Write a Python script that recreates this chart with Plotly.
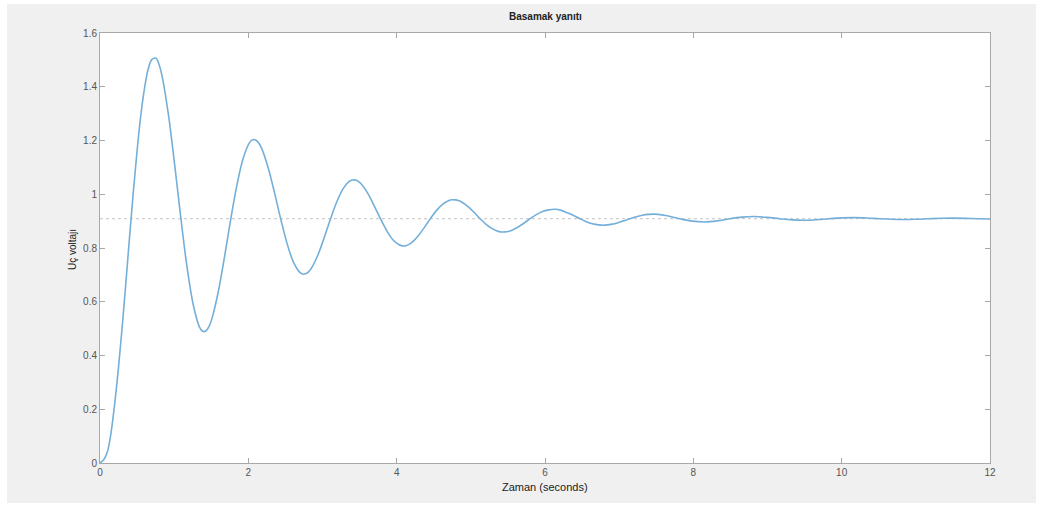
import plotly.graph_objects as go

# Step response samples (time in seconds, terminal voltage)
time_s = [0.0, 0.05, 0.10, 0.15, 0.20, 0.25, 0.30, 0.35, 0.40, 0.45, 0.50, 0.55,
          0.60, 0.65, 0.70, 0.755, 0.797, 0.839, 0.923, 1.007, 1.091, 1.175, 1.259, 1.343,
          1.386, 1.428, 1.470, 1.512, 1.596, 1.680, 1.764, 1.848, 1.932, 2.016, 2.058,
          2.100, 2.142, 2.184, 2.268, 2.352, 2.436, 2.520, 2.604, 2.688, 2.731, 2.773,
          2.815, 2.857, 2.941, 3.025, 3.109, 3.193, 3.277, 3.361, 3.403, 3.445, 3.487,
          3.529, 3.613, 3.697, 3.781, 3.865, 3.949, 4.034, 4.076, 4.118, 4.160, 4.202,
          4.286, 4.370, 4.454, 4.538, 4.622, 4.706, 4.748, 4.790, 4.832, 4.874, 4.958,
          5.042, 5.126, 5.210, 5.294, 5.378, 5.421, 5.463, 5.505, 5.547, 5.631, 5.715,
          5.799, 5.883, 5.967, 6.051, 6.135, 6.219, 6.303, 6.387, 6.471, 6.555, 6.639,
          6.723, 6.808, 6.892, 6.976, 7.060, 7.144, 7.228, 7.312, 7.396, 7.480, 7.648,
          7.816, 7.985, 8.153, 8.321, 8.489, 8.658, 8.826, 8.994, 9.162, 9.330, 9.498,
          9.667, 9.835, 10.003, 10.171, 10.339, 10.507, 10.676, 10.844, 11.012, 11.180,
          11.348, 11.516, 11.684, 11.852, 12.0]
voltage = [0.0, 0.012, 0.042, 0.115, 0.225, 0.357, 0.509, 0.675, 0.846, 1.011, 1.162, 1.293,
           1.394, 1.466, 1.502, 1.506, 1.482, 1.437, 1.295, 1.109, 0.909, 0.726, 0.586, 0.505,
           0.490, 0.491, 0.508, 0.540, 0.639, 0.769, 0.909, 1.037, 1.135, 1.192, 1.203,
           1.202, 1.190, 1.168, 1.098, 1.007, 0.909, 0.819, 0.750, 0.711, 0.703, 0.704,
           0.712, 0.728, 0.776, 0.840, 0.909, 0.972, 1.020, 1.048, 1.053, 1.053, 1.047,
           1.036, 1.002, 0.957, 0.909, 0.865, 0.831, 0.812, 0.808, 0.808, 0.8125, 0.820,
           0.844, 0.875, 0.909, 0.940, 0.963, 0.977, 0.9796, 0.979, 0.9766, 0.971, 0.955,
           0.933, 0.909, 0.887, 0.871, 0.861, 0.8596, 0.860, 0.8617, 0.865, 0.877, 0.892,
           0.909, 0.924, 0.936, 0.942, 0.944, 0.940, 0.931, 0.921, 0.909, 0.898, 0.890,
           0.886, 0.885, 0.888, 0.893, 0.901, 0.909, 0.916, 0.922, 0.925, 0.926, 0.920,
           0.909, 0.900, 0.897, 0.901, 0.909, 0.915, 0.917, 0.914, 0.909, 0.9045, 0.903,
           0.905, 0.909, 0.912, 0.913, 0.9116, 0.909, 0.9068, 0.906, 0.9071, 0.909,
           0.9105, 0.911, 0.9103, 0.909, 0.908]

steady_state = 0.909
x_ticks = [0, 2, 4, 6, 8, 10, 12]
y_ticks = [0, 0.2, 0.4, 0.6, 0.8, 1.0, 1.2, 1.4, 1.6]
y_tick_text = ["0", "0.2", "0.4", "0.6", "0.8", "1", "1.2", "1.4", "1.6"]

W, H = 1043, 506
ML, MR, MT, MB = 100, 53, 33, 43
PW, PH = W - ML - MR, H - MT - MB

def px_x(p):
    return (p - ML) / PW

def px_y(p):
    return (H - MB - p) / PH

fig = go.Figure()

fig.add_trace(go.Scatter(
    x=[x_ticks[0], x_ticks[-1]], y=[steady_state, steady_state],
    mode="lines", line=dict(color="#c4c4c4", width=1, dash="dot"),
    hoverinfo="skip", showlegend=False))

fig.add_trace(go.Scatter(
    x=time_s, y=voltage, mode="lines",
    line=dict(color="#74afd9", width=1.6, shape="spline", smoothing=1.0),
    showlegend=False))

axis_style = dict(
    showgrid=False, zeroline=False, showline=True, linecolor="#a8a8a8", linewidth=1,
    mirror="ticks", ticks="inside", ticklen=5, tickcolor="#a8a8a8", tickwidth=1,
    tickfont=dict(family="Liberation Sans, Arial, sans-serif", size=10, color="#555555"),
)

fig.update_layout(
    width=W, height=H,
    margin=dict(l=ML, r=MR, t=MT, b=MB, pad=0),
    paper_bgcolor="#f0f0f0", plot_bgcolor="#ffffff",
    xaxis=dict(range=[0, 12], tickvals=x_ticks, ticktext=[str(v) for v in x_ticks], **axis_style),
    yaxis=dict(range=[0, 1.6], tickvals=y_ticks, ticktext=y_tick_text, **axis_style),
    font=dict(family="Liberation Sans, Arial, sans-serif"),
)

# thin white frame around the grey figure area
frame = [
    (px_x(0), px_y(0), px_x(W), px_y(4)),
    (px_x(0), px_y(0), px_x(7), px_y(H)),
    (px_x(1036), px_y(0), px_x(W), px_y(H)),
    (px_x(0), px_y(503), px_x(W), px_y(H)),
]
for x0, y0, x1, y1 in frame:
    fig.add_shape(type="rect", xref="paper", yref="paper", x0=x0, y0=y0, x1=x1, y1=y1,
                  fillcolor="#ffffff", line=dict(width=0), layer="above")

fig.add_annotation(text="<b>Basamak yanıtı</b>", xref="paper", yref="paper",
                   x=0.5, y=px_y(16), showarrow=False,
                   font=dict(size=10, color="#222222"), xanchor="center", yanchor="middle")
fig.add_annotation(text="Zaman (seconds)", xref="paper", yref="paper",
                   x=px_x(545), y=px_y(487), showarrow=False,
                   font=dict(size=11, color="#222222"), xanchor="center", yanchor="middle")
fig.add_annotation(text="Uç voltajı", xref="paper", yref="paper",
                   x=px_x(72), y=px_y(250), showarrow=False, textangle=-90,
                   font=dict(size=10, color="#222222"), xanchor="center", yanchor="middle")

fig.write_html("out.html")
